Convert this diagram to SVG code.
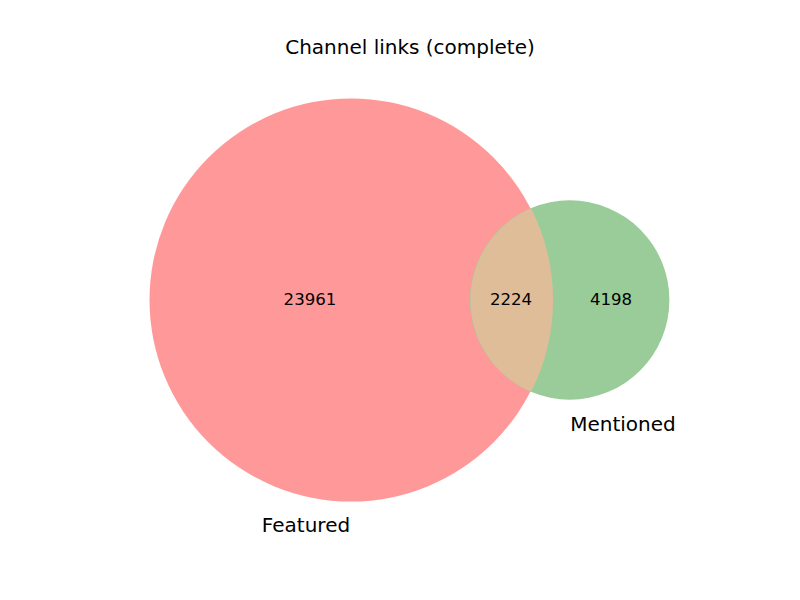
<svg xmlns="http://www.w3.org/2000/svg" width="800" height="600" viewBox="0 0 800 600">
<style>
text{font-family:"DejaVu Sans","Liberation Sans",sans-serif;fill:#000;text-anchor:middle}
.num{font-size:16.6px}
.lbl{font-size:20px}
</style>
<rect width="800" height="600" fill="#fff"/>
<g id="featured"><circle cx="351" cy="300" r="201.5" fill="#ff9999"/></g>
<g id="mentioned"><circle cx="569.7" cy="300" r="99.7" fill="#99cc99"/></g>
<g id="overlap"><path d="M531,208.3 A201.5,201.5 0 0 1 531,391.7 A99.7,99.7 0 0 1 531,208.3 Z" fill="#dfbd99"/></g>
<g id="connectors"></g>
<text x="410" y="54" class="lbl">Channel links (complete)</text>
<text x="310" y="304.5" class="num">23961</text>
<text x="511" y="304.5" class="num">2224</text>
<text x="611" y="304.5" class="num">4198</text>
<text x="306" y="532" class="lbl">Featured</text>
<text x="623" y="431" class="lbl">Mentioned</text>
</svg>
